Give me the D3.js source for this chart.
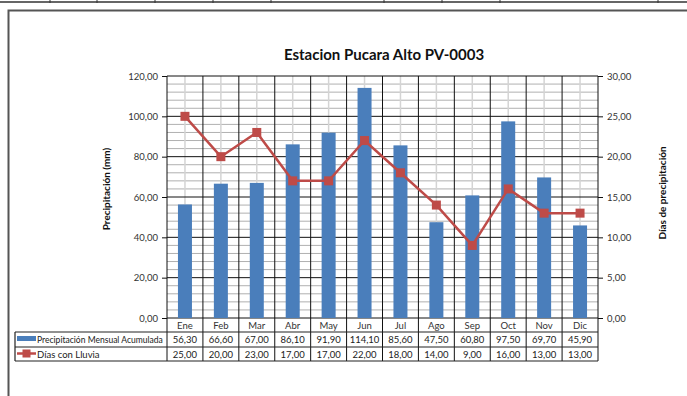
<!DOCTYPE html>
<html><head><meta charset="utf-8">
<script src="https://cdn.jsdelivr.net/npm/d3@7"></script>
<style>body{margin:0;background:#fff}svg{display:block}text{font-family:Lato,"Open Sans",sans-serif}</style>
</head><body>
<script>
const months = ["Ene","Feb","Mar","Abr","May","Jun","Jul","Ago","Sep","Oct","Nov","Dic"];
const precip = [56.30,66.60,67.00,86.10,91.90,114.10,85.60,47.50,60.80,97.50,69.70,45.90];
const dias = [25,20,23,17,17,22,18,14,9,16,13,13];
const leftTicks = [0,20,40,60,80,100,120];
const rightTicks = [0,5,10,15,20,25,30];
const title = "Estacion Pucara Alto PV-0003";
const seriesNames = ["Precipitación Mensual Acumulada","Días con Lluvia"];
const yTitleLeft = "Precipitación (mm)";
const yTitleRight = "Días de precipitación";

const W=687,H=396;
const L=167,R=598,T=76,B=318;
const rowTop=[318,332,347,361];
const tableLeft=15;
const fmt = v => d3.format(".2f")(v).replace(".",",");
const blue="#4a7ebb", red="#be4b48";

const svg=d3.select("body").append("svg").attr("width",W).attr("height",H);

// page decorations
svg.append("line").attr("x1",0).attr("x2",W).attr("y1",2).attr("y2",2).attr("stroke","#333").attr("stroke-width",1.5);
[50,97,155,213,271,384,442,500,658].forEach(x=>svg.append("line").attr("x1",x).attr("x2",x).attr("y1",0).attr("y2",3).attr("stroke","#333"));
svg.append("rect").attr("x",8.5).attr("y",10.5).attr("width",W+20).attr("height",H+20).attr("fill","none").attr("stroke","#555").attr("stroke-width",2);

const x=d3.scaleBand().domain(months).range([L,R]).paddingInner(0).paddingOuter(0);
const yL=d3.scaleLinear().domain([0,120]).range([B,T]);
const yR=d3.scaleLinear().domain([0,30]).range([B,T]);

// minor horizontal grid
d3.range(0,121,4).filter(v=>v%20!==0).forEach(v=>{
  svg.append("line").attr("x1",L).attr("x2",R).attr("y1",yL(v)).attr("y2",yL(v)).attr("stroke","#b0b0b0").attr("stroke-width",1);
});
// center vertical lines
months.forEach(m=>{
  const cx=x(m)+x.bandwidth()/2;
  svg.append("line").attr("x1",cx).attr("x2",cx).attr("y1",T).attr("y2",B).attr("stroke","#d4d4d4").attr("stroke-width",1.5);
});
// major horizontal grid
leftTicks.forEach(v=>{
  svg.append("line").attr("x1",L).attr("x2",R).attr("y1",yL(v)).attr("y2",yL(v)).attr("stroke","#111").attr("stroke-width",1);
});
// category boundaries
months.forEach((m,i)=>{
  if(i===0) return;
  svg.append("line").attr("x1",x(m)).attr("x2",x(m)).attr("y1",T).attr("y2",rowTop[3]).attr("stroke","#111").attr("stroke-width",1);
});

// bars
const bw=14;
svg.append("g").selectAll("rect").data(months).join("rect")
  .attr("x",(m)=>x(m)+x.bandwidth()/2-bw/2).attr("width",bw)
  .attr("y",(m,i)=>yL(precip[i])).attr("height",(m,i)=>B-yL(precip[i]))
  .attr("fill",blue);

// line
const line=d3.line().x((d,i)=>x(months[i])+x.bandwidth()/2).y(d=>yR(d));
svg.append("path").datum(dias).attr("d",line).attr("fill","none").attr("stroke",red).attr("stroke-width",2.5);
svg.append("g").selectAll("rect").data(dias).join("rect")
  .attr("x",(d,i)=>x(months[i])+x.bandwidth()/2-4.5).attr("y",d=>yR(d)-4.5)
  .attr("width",9).attr("height",9).attr("fill",red);

// axes
const axL=svg.append("g").attr("transform",`translate(${L},0)`)
  .call(d3.axisLeft(yL).tickValues(leftTicks).tickSize(5).tickPadding(4).tickFormat(fmt));
const axR=svg.append("g").attr("transform",`translate(${R},0)`)
  .call(d3.axisRight(yR).tickValues(rightTicks).tickSize(5).tickPadding(4).tickFormat(fmt));
[axL,axR].forEach(a=>{
  a.select(".domain").attr("stroke","#111").attr("d",`M0,${T}V${rowTop[3]}`);
  a.selectAll(".tick line").attr("stroke","#111");
  a.selectAll("text").attr("font-size",9.5).attr("fill","#333").style("font-family","Lato,sans-serif");
});

// table
[rowTop[1],rowTop[2],rowTop[3]].forEach(y=>{
  svg.append("line").attr("x1",tableLeft).attr("x2",R).attr("y1",y).attr("y2",y).attr("stroke","#222").attr("stroke-width",1.2);
});
svg.append("line").attr("x1",tableLeft).attr("x2",tableLeft).attr("y1",rowTop[1]).attr("y2",rowTop[3]).attr("stroke","#222").attr("stroke-width",1.2);

// category labels
months.forEach(m=>{
  svg.append("text").attr("x",x(m)+x.bandwidth()/2).attr("y",329).attr("text-anchor","middle")
    .attr("font-size",9.5).attr("fill","#333").text(m);
});
// values rows
[precip,dias].forEach((arr,r)=>{
  arr.forEach((v,i)=>{
    svg.append("text").attr("x",x(months[i])+x.bandwidth()/2).attr("y",rowTop[r+1]+11).attr("text-anchor","middle")
      .attr("font-size",9.5).attr("fill","#222").text(fmt(v));
  });
});
// legend keys
svg.append("rect").attr("x",17).attr("y",336).attr("width",19).attr("height",5).attr("fill",blue);
svg.append("line").attr("x1",17).attr("x2",36).attr("y1",353.5).attr("y2",353.5).attr("stroke",red).attr("stroke-width",2.5);
svg.append("rect").attr("x",22.5).attr("y",349.5).attr("width",8).attr("height",8).attr("fill",red);
seriesNames.forEach((s,r)=>{
  const t=svg.append("text").attr("x",37).attr("y",rowTop[r+1]+11).attr("font-size",9.5).attr("fill","#222").text(s);
  const len=t.node().getComputedTextLength();
  if(len>126) t.attr("font-size",9.5*126/len);
});

// titles
svg.append("text").attr("x",384).attr("y",60).attr("text-anchor","middle").attr("font-size",15).attr("font-weight","bold").attr("fill","#111").text(title);
svg.append("text").attr("transform","translate(110,189) rotate(-90)").attr("text-anchor","middle").attr("font-size",10).attr("font-weight","bold").attr("fill","#111").text(yTitleLeft);
svg.append("text").attr("transform","translate(666,193) rotate(-90)").attr("text-anchor","middle").attr("font-size",10).attr("font-weight","bold").attr("fill","#111").text(yTitleRight);
</script>
</body></html>
